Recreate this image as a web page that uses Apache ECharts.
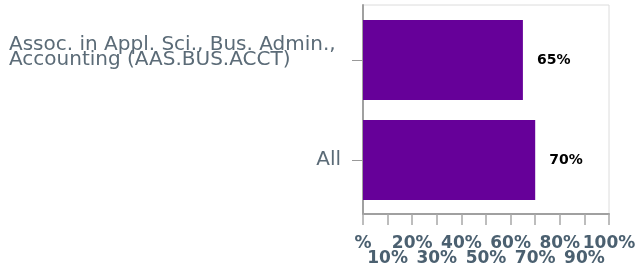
<!DOCTYPE html>
<html>
<head>
<meta charset="utf-8">
<script src="https://cdn.jsdelivr.net/npm/echarts@6/dist/echarts.min.js"></script>
<style>
  html, body { margin: 0; padding: 0; background: #fff; }
  #chart { width: 636px; height: 269px; }
</style>
</head>
<body>
<div id="chart"></div>
<script>
// data
const categories = ["Assoc. in Appl. Sci., Bus. Admin.,\nAccounting (AAS.BUS.ACCT)", "All"];
const values = [65, 70];
const tickValues = [0, 10, 20, 30, 40, 50, 60, 70, 80, 90, 100];
const tickLabels = ["%", "10%", "20%", "30%", "40%", "50%", "60%", "70%", "80%", "90%", "100%"];

const labelFont = {
  color: "#4b6070",
  fontFamily: "DejaVu Sans",
  fontWeight: "bold",
  fontSize: 17,
  showMinLabel: true,
  showMaxLabel: true
};

// two copies of the x axis: even labels on the first row, odd labels on the second
function rowAxis(row) {
  return {
    gridIndex: 0,
    position: "bottom",
    type: "value",
    min: 0,
    max: 100,
    interval: 10,
    splitLine: { show: false },
    axisLine: { show: row === 0, lineStyle: { color: "#a0a0a0", width: 2 } },
    axisTick: { show: row === 0, length: 11, lineStyle: { color: "#a8a8a8", width: 1.5 } },
    axisLabel: Object.assign({}, labelFont, {
      margin: row === 0 ? 21 : 36,
      formatter: function (v) {
        const i = tickValues.indexOf(v);
        return i % 2 === row ? tickLabels[i] : "";
      }
    })
  };
}

const mychart = echarts.init(document.getElementById("chart"));
mychart.setOption({
  animation: false,
  grid: [
    // frame + x axis
    { left: 363, right: 27, top: 5, bottom: 55, show: true, borderColor: "#dcdcdc", borderWidth: 1, outerBoundsMode: "none" },
    // bars + categories
    { left: 363, right: 27, top: 10, bottom: 59, outerBoundsMode: "none" }
  ],
  xAxis: [rowAxis(0), rowAxis(1), {
    gridIndex: 1,
    type: "value",
    min: 0,
    max: 100,
    show: false
  }],
  yAxis: [{
    gridIndex: 0,
    type: "category",
    data: [""],
    axisLine: { show: true, lineStyle: { color: "#a0a0a0", width: 2 } },
    axisTick: { show: false },
    axisLabel: { show: false }
  }, {
    gridIndex: 1,
    type: "category",
    inverse: true,
    data: categories,
    axisLine: { show: false },
    axisTick: { show: true, length: 11, alignWithLabel: true, lineStyle: { color: "#999" } },
    axisLabel: {
      margin: 22,
      color: "#5b6b77",
      fontFamily: "DejaVu Sans",
      fontSize: 20,
      lineHeight: 15,
      formatter: function (v) {
        if (v.indexOf("\n") < 0) return v;
        return "{l|" + v.split("\n").join("}\n{l|") + "}\n{e| }";
      },
      rich: {
        l: { width: 332, align: "left", color: "#5b6b77", fontFamily: "DejaVu Sans", fontSize: 20, lineHeight: 15 },
        e: { fontSize: 10, lineHeight: 15 }
      }
    }
  }],
  series: [{
    type: "bar",
    xAxisIndex: 2,
    yAxisIndex: 1,
    data: values,
    barWidth: 80,
    itemStyle: { color: "#660099" },
    label: {
      show: true,
      position: "right",
      distance: 14,
      color: "#000",
      fontFamily: "DejaVu Sans",
      fontWeight: "bold",
      fontSize: 14,
      formatter: function (p) { return p.value + "%"; }
    }
  }]
});
window.addEventListener("resize", function () {
  mychart.resize();
});
</script>
</body>
</html>
